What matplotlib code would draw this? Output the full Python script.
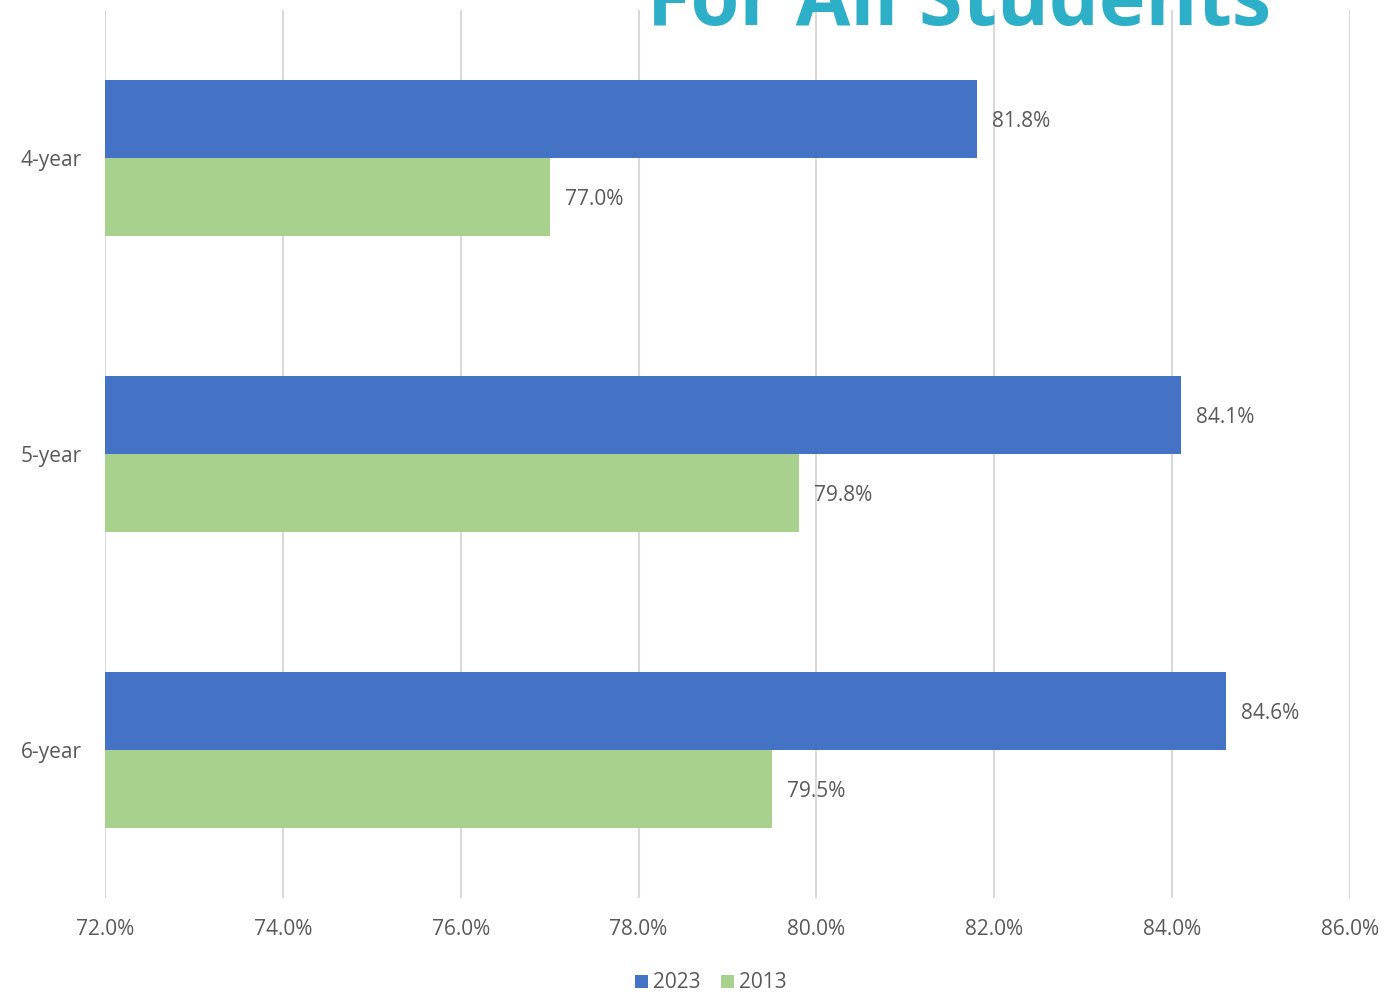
import matplotlib.pyplot as plt
import numpy as np
from matplotlib.ticker import FuncFormatter

categories = ["4-year", "5-year", "6-year"]
rate_2023 = [81.8, 84.1, 84.6]
rate_2013 = [77.0, 79.8, 79.5]
xticks = [72, 74, 76, 78, 80, 82, 84, 86]

plt.rcParams['font.family'] = ['Open Sans', 'DejaVu Sans']
grey = "#595959"
blue = "#4472C4"
green = "#A9D18E"

fig = plt.figure(figsize=(13.84, 10.02), dpi=100)
ax = fig.add_axes([105 / 1384, 1 - 898 / 1002, (1350 - 105) / 1384, (898 - 10) / 1002])

y = np.arange(len(categories))
h = 0.263
b1 = ax.barh(y - h / 2, rate_2023, height=h, left=0, color=blue, label="2023")
b2 = ax.barh(y + h / 2, rate_2013, height=h, left=0, color=green, label="2013")

for bars, vals in ((b1, rate_2023), (b2, rate_2013)):
    for bar, v in zip(bars, vals):
        ax.annotate(f"{v:.1f}%", (v, bar.get_y() + bar.get_height() / 2),
                    xytext=(11, -2), textcoords="offset points",
                    va="center", ha="left", fontsize=15, color=grey)

ax.set_xlim(72, 86)
ax.set_ylim(2.5, -0.5)
ax.set_xticks(xticks)
ax.xaxis.set_major_formatter(FuncFormatter(lambda v, p: f"{v:.1f}%"))
ax.set_yticks(y)
ax.set_yticklabels(categories)
ax.tick_params(axis="both", length=0, labelsize=15, labelcolor=grey)
ax.tick_params(axis="x", pad=15)
ax.tick_params(axis="y", pad=17)
ax.grid(axis="x", color="#D9D9D9", linewidth=1.5)
ax.set_axisbelow(True)
for s in ax.spines.values():
    s.set_visible(False)

fig.legend(handles=[b1, b2], loc="center", bbox_to_anchor=(711 / 1384, 1 - 983 / 1002),
           ncol=2, frameon=False, fontsize=15, labelcolor=grey,
           handlelength=0.6, handleheight=0.6, handletextpad=0.25, columnspacing=1.0)

fig.text(959 / 1384, 1 - 25 / 1002, "For All Students", ha="center", va="baseline",
         fontsize=57, fontweight="bold", color="#2EAFC8")

fig.savefig("out.png", dpi=100)
